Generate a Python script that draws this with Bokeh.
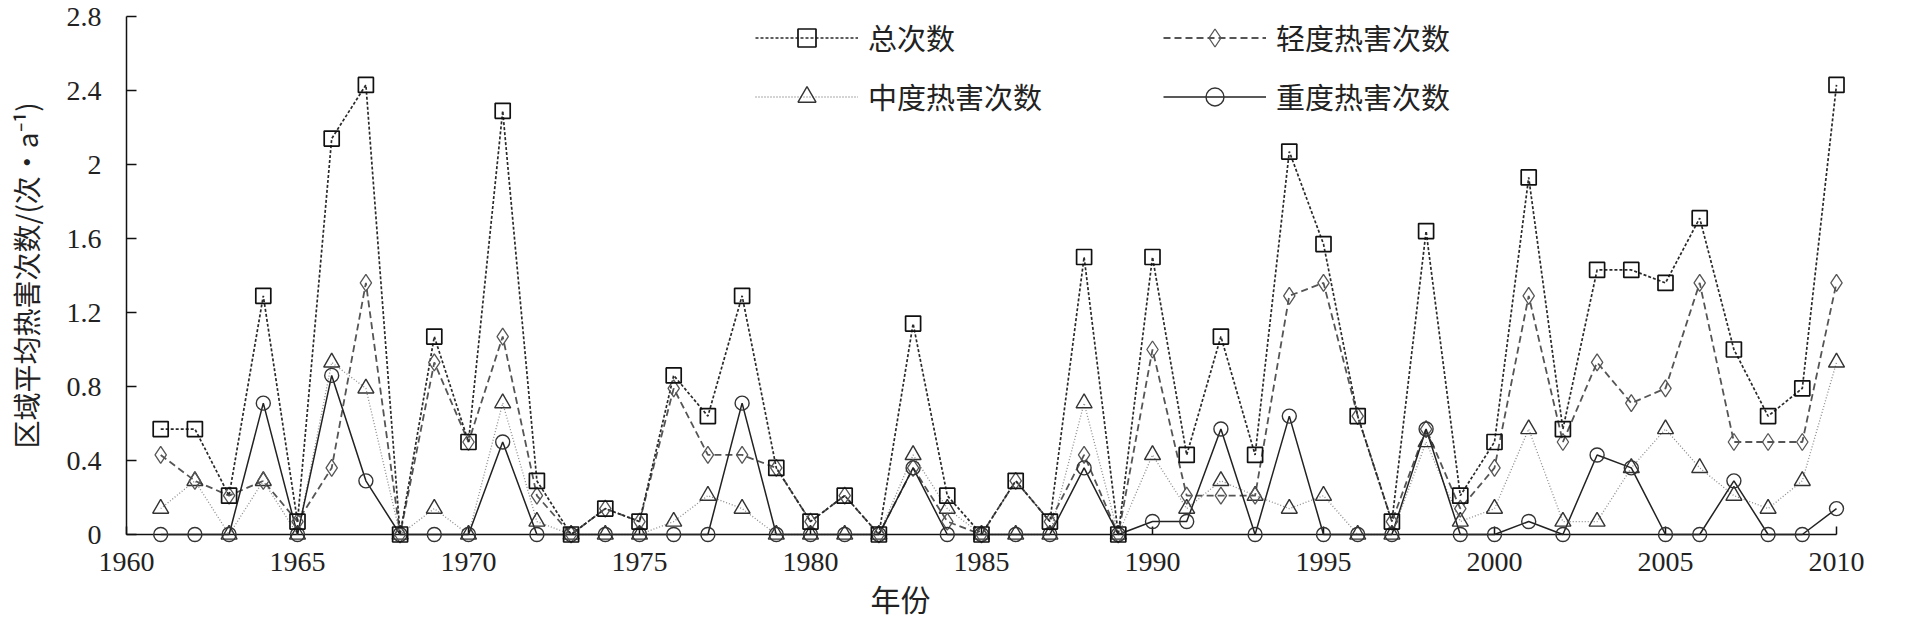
from bokeh.plotting import figure
from bokeh.models import (Range1d, FixedTicker, NumeralTickFormatter, Legend,
                          LegendItem, ColumnDataSource, Title)
from bokeh.core.properties import value
from bokeh.embed import file_html
from bokeh.resources import INLINE

# ---------------- data ----------------
years = list(range(1961, 2011))
total = [0.57, 0.57, 0.21, 1.29, 0.07, 2.14, 2.43, 0.00, 1.07, 0.50,
         2.29, 0.29, 0.00, 0.14, 0.07, 0.86, 0.64, 1.29, 0.36, 0.07,
         0.21, 0.00, 1.14, 0.21, 0.00, 0.29, 0.07, 1.50, 0.00, 1.50,
         0.43, 1.07, 0.43, 2.07, 1.57, 0.64, 0.07, 1.64, 0.21, 0.50,
         1.93, 0.57, 1.43, 1.43, 1.36, 1.71, 1.00, 0.64, 0.79, 2.43]
light = [0.43, 0.29, 0.21, 0.29, 0.07, 0.36, 1.36, 0.00, 0.93, 0.50,
         1.07, 0.21, 0.00, 0.14, 0.07, 0.79, 0.43, 0.43, 0.36, 0.07,
         0.21, 0.00, 0.36, 0.07, 0.00, 0.29, 0.07, 0.43, 0.00, 1.00,
         0.21, 0.21, 0.21, 1.29, 1.36, 0.64, 0.07, 0.57, 0.14, 0.36,
         1.29, 0.50, 0.93, 0.71, 0.79, 1.36, 0.50, 0.50, 0.50, 1.36]
moderate = [0.14, 0.29, 0.00, 0.29, 0.00, 0.93, 0.79, 0.00, 0.14, 0.00,
            0.71, 0.07, 0.00, 0.00, 0.00, 0.07, 0.21, 0.14, 0.00, 0.00,
            0.00, 0.00, 0.43, 0.14, 0.00, 0.00, 0.00, 0.71, 0.00, 0.43,
            0.14, 0.29, 0.21, 0.14, 0.21, 0.00, 0.00, 0.50, 0.07, 0.14,
            0.57, 0.07, 0.07, 0.36, 0.57, 0.36, 0.21, 0.14, 0.29, 0.93]
severe = [0.00, 0.00, 0.00, 0.71, 0.00, 0.86, 0.29, 0.00, 0.00, 0.00,
          0.50, 0.00, 0.00, 0.00, 0.00, 0.00, 0.00, 0.71, 0.00, 0.00,
          0.00, 0.00, 0.36, 0.00, 0.00, 0.00, 0.00, 0.36, 0.00, 0.07,
          0.07, 0.57, 0.00, 0.64, 0.00, 0.00, 0.00, 0.57, 0.00, 0.00,
          0.07, 0.00, 0.43, 0.36, 0.00, 0.00, 0.29, 0.00, 0.00, 0.14]
x_ticks = [1960, 1965, 1970, 1975, 1980, 1985, 1990, 1995, 2000, 2005, 2010]
y_ticks = [0, 0.4, 0.8, 1.2, 1.6, 2.0, 2.4, 2.8]
series_names = ["总次数", "轻度热害次数", "中度热害次数", "重度热害次数"]
x_title = "年份"
y_title = "区域平均热害次数/(次·a⁻¹)"

# ---------------- figure ----------------
p = figure(width=1898, height=619, output_backend="svg", toolbar_location=None,
           x_range=Range1d(x_ticks[0], x_ticks[-1]),
           y_range=Range1d(y_ticks[0], y_ticks[-1]),
           min_border_left=126, min_border_right=62,
           min_border_top=16, min_border_bottom=85)
p.title.visible = False
p.outline_line_color = None
p.background_fill_color = "white"
p.border_fill_color = "white"
p.xgrid.visible = False
p.ygrid.visible = False

TICK_FONT = "Liberation Serif"
CJK_FONT = "Noto Sans CJK SC"

for ax in (p.xaxis[0], p.yaxis[0]):
    ax.axis_line_color = "#111111"
    ax.axis_line_width = 1.5
    ax.major_tick_line_color = "#111111"
    ax.major_tick_line_width = 1.5
    ax.major_tick_out = 0
    ax.minor_tick_line_color = None
    ax.major_label_text_font = TICK_FONT
    ax.major_label_text_font_size = "28px"
    ax.major_label_text_color = "#222222"

p.xaxis.ticker = FixedTicker(ticks=x_ticks)
p.xaxis.major_tick_in = 8
p.xaxis.major_label_standoff = 18

p.yaxis.ticker = FixedTicker(ticks=y_ticks)
p.yaxis.formatter = NumeralTickFormatter(format="0.[0]")
p.yaxis.major_tick_in = 10
p.yaxis.major_label_standoff = 25
p.yaxis.axis_label = y_title
p.yaxis.axis_label_text_font = CJK_FONT
p.yaxis.axis_label_text_font_size = "28px"
p.yaxis.axis_label_text_font_style = "normal"
p.yaxis.axis_label_text_color = "#222222"
p.yaxis.axis_label_standoff = 18

# x-axis title, left of centre as in the reference
p.add_layout(Title(text=x_title, align="left", offset=744, standoff=0,
                   vertical_align="bottom", text_font=CJK_FONT,
                   text_font_size="30px", text_font_style="normal",
                   text_color="#222222"), "below")

src = ColumnDataSource(dict(year=years, total=total, light=light,
                            moderate=moderate, severe=severe))
LV = "annotation"  # keep markers sitting on the axes from being clipped

r_mod_l = p.line("year", "moderate", source=src, line_color="#8c8c8c",
                 line_width=1.3, line_dash="1 2", level=LV)
r_lig_l = p.line("year", "light", source=src, line_color="#555555",
                 line_width=1.8, line_dash="7 4", level=LV)
r_tot_l = p.line("year", "total", source=src, line_color="#2a2a2a",
                 line_width=1.7, line_dash="3 2", level=LV)
r_sev_l = p.line("year", "severe", source=src, line_color="#222222",
                 line_width=1.5, level=LV)

r_mod_p = p.scatter("year", "moderate", source=src, marker="triangle", size=16,
                    fill_color=None, line_color="#333333", line_width=1.4, level=LV)
r_lig_p = p.scatter("year", "light", source=src, marker="diamond", size=17,
                    fill_color=None, line_color="#555555", line_width=1.3, level=LV)
r_sev_p = p.scatter("year", "severe", source=src, marker="circle", size=14,
                    fill_color=None, line_color="#333333", line_width=1.4, level=LV)
r_tot_p = p.scatter("year", "total", source=src, marker="square", size=15,
                    fill_color=None, line_color="#111111", line_width=1.7, level=LV)

leg_style = dict(orientation="vertical", glyph_width=103, glyph_height=45,
                 label_height=45, label_standoff=10, spacing=14, padding=0,
                 margin=0, border_line_color=None, background_fill_alpha=0,
                 label_text_font=CJK_FONT, label_text_font_size="29px",
                 label_text_color="#222222")
leg1 = Legend(items=[LegendItem(label=value(series_names[0]), renderers=[r_tot_l, r_tot_p]),
                     LegendItem(label=value(series_names[2]), renderers=[r_mod_l, r_mod_p])],
              location=(629, 415.5), **leg_style)
leg2 = Legend(items=[LegendItem(label=value(series_names[1]), renderers=[r_lig_l, r_lig_p]),
                     LegendItem(label=value(series_names[3]), renderers=[r_sev_l, r_sev_p])],
              location=(1037, 415.5), **leg_style)
p.add_layout(leg1)
p.add_layout(leg2)

open("out.html", "w").write(file_html(p, INLINE))
